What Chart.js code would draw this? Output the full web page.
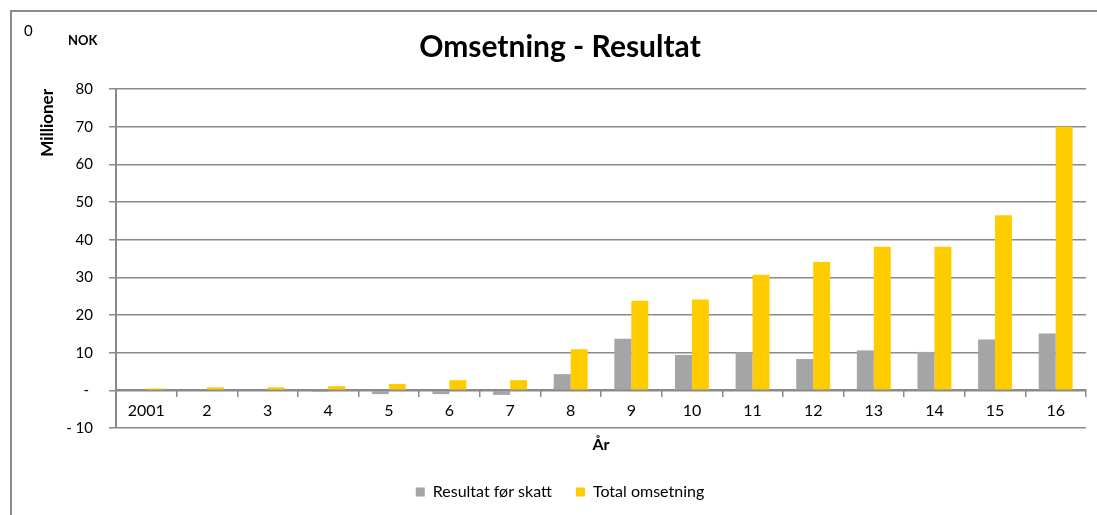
<!DOCTYPE html>
<html>
<head>
<meta charset="utf-8">
<script src="https://cdn.jsdelivr.net/npm/chart.js@4.4.0/dist/chart.umd.min.js"></script>
<style>
  html, body { margin: 0; padding: 0; background: #fff; overflow: hidden; }
  #frame { position: absolute; left: 10px; top: 10px; width: 1200px; height: 600px;
           border-left: 2px solid #8c8c8c; border-top: 2px solid #8c8c8c; }
  #wrap { position: absolute; left: 0; top: 0; width: 1097px; height: 515px; }
</style>
</head>
<body>
<div id="frame"></div>
<div id="wrap"><canvas id="omsChart" width="1097" height="515"></canvas></div>
<script>
const years = ['2001', '2', '3', '4', '5', '6', '7', '8', '9', '10', '11', '12', '13', '14', '15', '16'];
const resultat = [0, 0, 0, -0.4, -1.0, -1.0, -1.2, 4.3, 13.7, 9.4, 10.1, 8.3, 10.6, 10.2, 13.5, 15.1];
const omsetning = [0.5, 0.8, 0.8, 1.1, 1.7, 2.7, 2.7, 10.9, 23.8, 24.1, 30.7, 34.1, 38.1, 38.1, 46.5, 70.0];
const yTicks = [-10, 0, 10, 20, 30, 40, 50, 60, 70, 80];

const FONT = 'Lato';
const GRID = '#8a8a8a';

function yLabel(v) {
  if (v === 0) return '- ';
  if (v < 0) return '- ' + (-v);
  return String(v);
}

// corner texts "0" and "NOK"
const cornerText = {
  id: 'cornerText',
  afterDraw(chart) {
    const c = chart.ctx;
    c.save();
    c.fillStyle = '#000';
    c.textBaseline = 'middle';
    c.textAlign = 'left';
    c.font = '15px ' + FONT;
    c.fillText('0', 24, 31);
    c.font = 'bold 13px ' + FONT;
    c.fillText('NOK', 68, 41);
    c.restore();
  }
};

let ctx = document.getElementById('omsChart').getContext('2d');

new Chart(ctx, {
  type: 'bar',
  data: {
    labels: years,
    datasets: [
      {
        label: 'Resultat før skatt',
        data: resultat,
        backgroundColor: '#a5a5a5',
        categoryPercentage: 0.56,
        barPercentage: 1.0
      },
      {
        label: 'Total omsetning',
        data: omsetning,
        backgroundColor: '#ffcc00',
        categoryPercentage: 0.56,
        barPercentage: 1.0
      }
    ]
  },
  options: {
    responsive: false,
    animation: false,
    layout: { padding: { left: 34, right: 11, top: 0, bottom: 5 } },
    plugins: {
      title: {
        display: true,
        text: 'Omsetning - Resultat',
        color: '#000',
        font: { family: FONT, size: 30, weight: 'bold' },
        padding: { top: 29, bottom: 24 }
      },
      legend: {
        position: 'bottom',
        labels: {
          color: '#000',
          font: { family: FONT, size: 16 },
          boxWidth: 9,
          boxHeight: 9,
          padding: 24
        }
      },
      tooltip: { enabled: false }
    },
    scales: {
      x: {
        position: { y: 0 },
        offset: true,
        grid: {
          display: true,
          offset: true,
          drawOnChartArea: false,
          drawTicks: true,
          tickLength: 6,
          color: GRID,
          lineWidth: 1.5
        },
        border: { display: true, color: GRID, width: 2 },
        ticks: { color: '#000', font: { family: FONT, size: 16 }, padding: 5, maxRotation: 0, autoSkip: false },
        title: {
          display: true,
          text: 'År',
          color: '#000',
          font: { family: FONT, size: 16, weight: 'bold' },
          padding: { top: 10, bottom: 0 }
        }
      },
      spacer: {
        type: 'category',
        position: 'bottom',
        display: true,
        grid: { display: false, drawTicks: false },
        border: { display: false },
        ticks: { display: false },
        afterFit: (s) => { s.height = 32; }
      },
      y: {
        min: -10,
        max: 80,
        afterBuildTicks: (s) => { s.ticks = yTicks.map(v => ({ value: v })); },
        afterFit: (s) => { s.width = 82; },
        grid: { color: GRID, lineWidth: 1.5, tickLength: 7, drawTicks: true },
        border: { display: true, color: GRID, width: 2 },
        ticks: {
          color: '#000',
          font: { family: FONT, size: 15 },
          padding: 16,
          callback: (v) => yLabel(v)
        },
        title: {
          display: true,
          text: 'Millioner',
          align: 'end',
          color: '#000',
          font: { family: FONT, size: 17, weight: 'bold' },
          padding: { top: 3, bottom: 0 }
        }
      }
    }
  },
  plugins: [cornerText]
});
</script>
</body>
</html>
